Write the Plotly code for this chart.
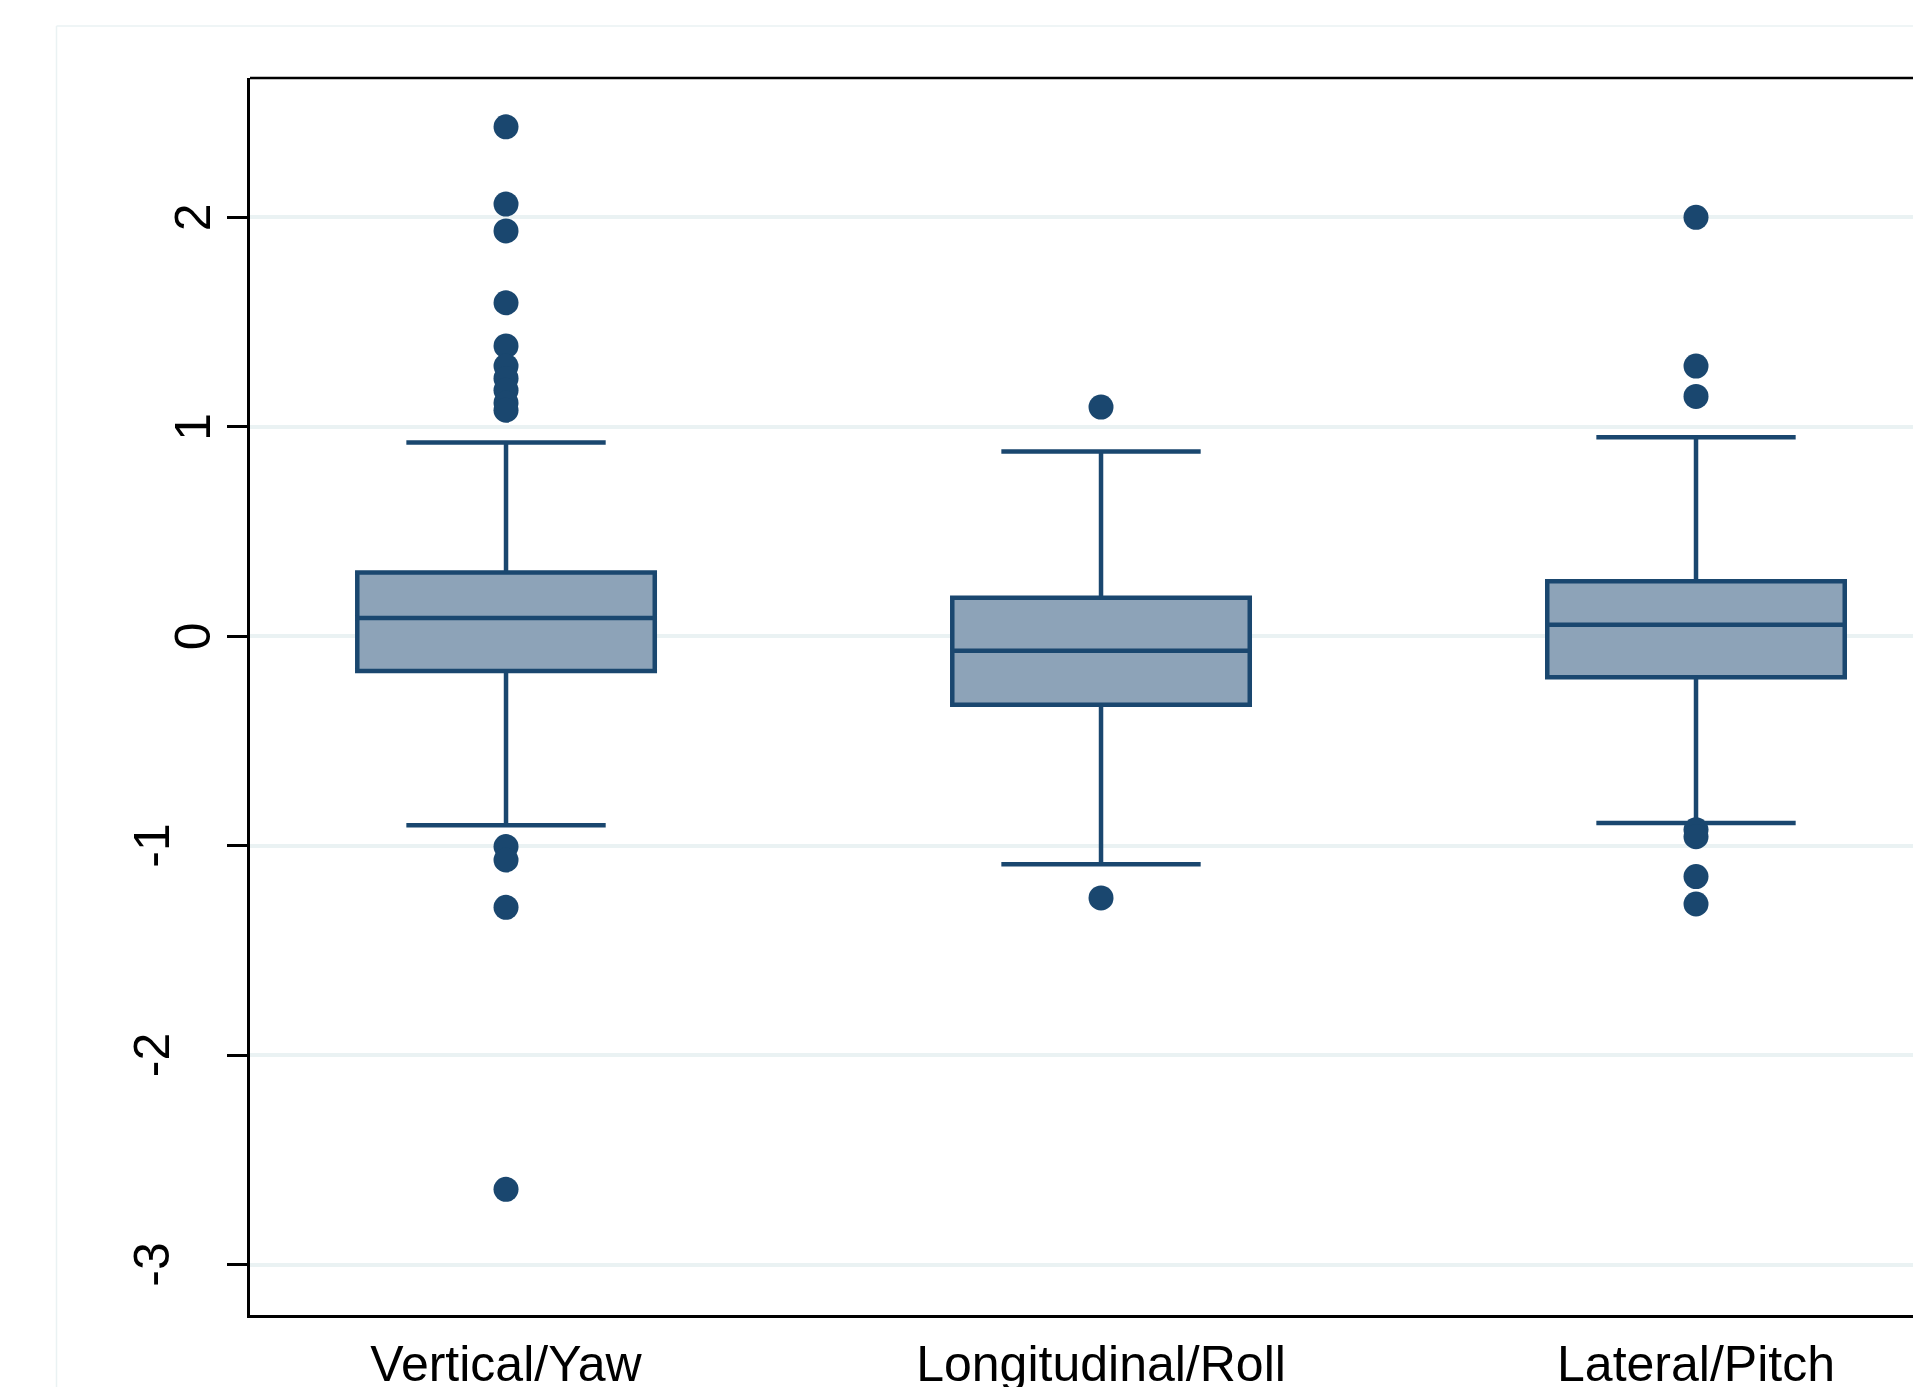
import plotly.graph_objects as go

# ---------------- data ----------------
categories = ["Vertical/Yaw", "Longitudinal/Roll", "Lateral/Pitch"]
q1 = [-0.166, -0.327, -0.196]
median = [0.087, -0.069, 0.055]
q3 = [0.305, 0.184, 0.263]
lower_whisker = [-0.902, -1.088, -0.891]
upper_whisker = [0.925, 0.882, 0.950]

outliers_vertical = [2.432, 2.063, 1.935, 1.592, 1.386, 1.290, 1.231, 1.175, 1.114, 1.079,
                     -1.004, -1.068, -1.294, -2.640]
outliers_longitudinal = [1.094, -1.249]
outliers_lateral = [2.000, 1.290, 1.145, -0.924, -0.957, -1.147, -1.278]

y_ticks = [-3, -2, -1, 0, 1, 2]
y_tick_labels = ["-3", "-2", "-1", "0", "1", "2"]

# ---------------- style ----------------
NAVY = "#1A476F"
FILL = "#8DA3B8"
GRID = "#EAF2F3"
FONT = "Liberation Sans, Arial, Helvetica, sans-serif"

fig = go.Figure()

for i, cat in enumerate(categories):
    fig.add_trace(go.Box(
        x=[cat],
        q1=[q1[i]], median=[median[i]], q3=[q3[i]],
        lowerfence=[lower_whisker[i]], upperfence=[upper_whisker[i]],
        boxpoints=False,
        width=0.5,
        whiskerwidth=0.67,
        line=dict(color=NAVY, width=4.5),
        fillcolor=FILL,
        showlegend=False,
        hoverinfo="skip",
    ))

out_lists = [outliers_vertical, outliers_longitudinal, outliers_lateral]
for cat, vals in zip(categories, out_lists):
    fig.add_trace(go.Scatter(
        x=[cat] * len(vals), y=vals,
        mode="markers",
        marker=dict(symbol="circle", size=25, color=NAVY, line=dict(width=0)),
        showlegend=False,
        hoverinfo="skip",
    ))

W, H = 1913, 1387
L, R, T, B = 250, 0, 78, 72
plot_w = W - L - R
plot_h = H - T - B

fig.update_layout(
    width=W, height=H,
    margin=dict(l=L, r=R, t=T, b=B, pad=0, autoexpand=False),
    paper_bgcolor="white",
    plot_bgcolor="white",
    font=dict(family=FONT, size=50, color="black"),
    showlegend=False,
    xaxis=dict(
        type="category",
        categoryorder="array", categoryarray=categories,
        range=[-0.4303, 2.3647],
        showline=True, linecolor="black", linewidth=2.5,
        showgrid=False, zeroline=False,
        ticks="",
        tickfont=dict(family=FONT, size=50, color="black"),
        ticklabelstandoff=3,
        automargin=False,
    ),
    yaxis=dict(
        range=[-3.240, 2.665],
        tickvals=y_ticks,
        showticklabels=False,
        showline=True, linecolor="black", linewidth=2.5,
        ticks="outside", ticklen=20, tickwidth=2.5, tickcolor="black",
        showgrid=True, gridcolor=GRID, gridwidth=3.5,
        zeroline=False,
        automargin=False,
    ),
)

# rotated y tick labels (Stata places the negative ones further out)
for v, lab in zip(y_ticks, y_tick_labels):
    cx = 152 if v < 0 else 193
    fig.add_annotation(
        x=(cx - L) / plot_w, xref="paper",
        y=v, yref="y",
        text=lab, textangle=-90, showarrow=False,
        xanchor="center", yanchor="middle",
        font=dict(family=FONT, size=50, color="black"),
    )

# top border of the plot region (right side runs off the canvas)
fig.add_shape(type="line", xref="paper", yref="paper",
              x0=0, x1=1.01, y0=1, y1=1,
              line=dict(color="black", width=2.5))

# faint outer graph-region outline
ox = (56.5 - L) / plot_w
oy = (H - B - 26) / plot_h
fig.add_shape(type="line", xref="paper", yref="paper",
              x0=ox, x1=1.05, y0=oy, y1=oy,
              line=dict(color=GRID, width=1.5), layer="below")
fig.add_shape(type="line", xref="paper", yref="paper",
              x0=ox, x1=ox, y0=oy, y1=-0.2,
              line=dict(color=GRID, width=1.5), layer="below")

fig.write_html(
    "out.html",
    config={"displayModeBar": False},
    post_script="document.body.style.margin='0';document.body.style.overflow='hidden';",
)
